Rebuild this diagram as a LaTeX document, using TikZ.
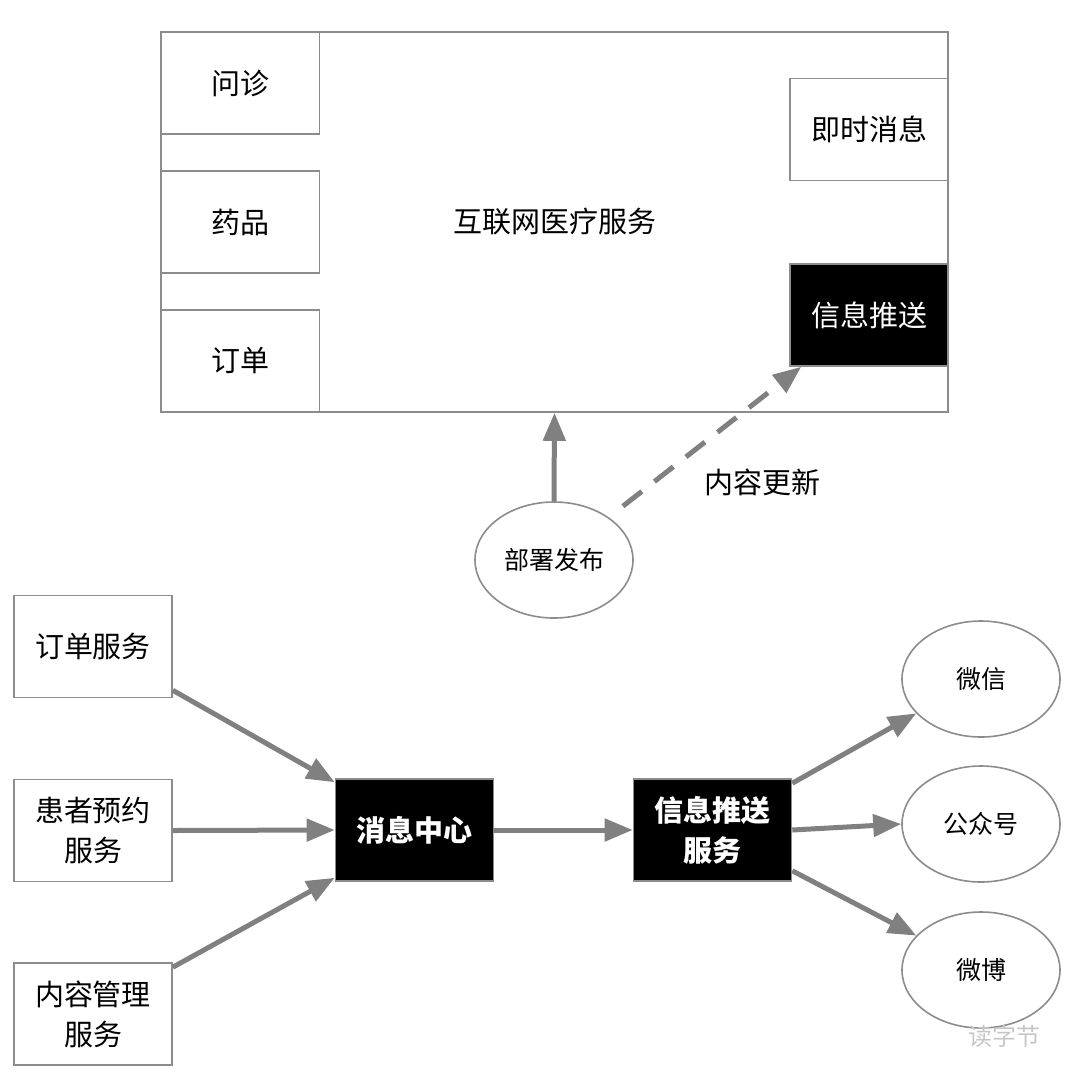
\documentclass[tikz,border=0pt]{standalone}
\usepackage{fontspec}
\setmainfont{Noto Sans CJK SC}
\usetikzlibrary{arrows.meta,shapes.geometric}
\definecolor{edgegray}{RGB}{140,140,140}
\definecolor{linkgray}{RGB}{128,128,128}

\begin{document}
\begin{tikzpicture}[x=0.5pt,y=-0.5pt,
    box/.style={draw=edgegray, line width=0.8pt, fill=white, minimum width=79pt, minimum height=51pt, inner sep=0pt, align=center, font=\fontsize{14.5}{20}\selectfont},
    darkbox/.style={box, fill=black, text=white},
    strongbox/.style={darkbox, font=\fontsize{14.5}{20}\selectfont\bfseries},
    oval/.style={ellipse, draw=edgegray, line width=0.8pt, fill=white, minimum width=79pt, minimum height=58pt, inner sep=0pt, font=\fontsize{12.5}{16}\selectfont},
    link/.style={draw=linkgray, line width=2.5pt, -{Triangle[length=14pt,width=11pt]}}]
    \useasboundingbox (0,0) rectangle (1080,1084);

    \node[box, minimum width=393.5pt, minimum height=190pt] (platform) at (554.5,222) {互联网医疗服务};
    \node[box] (consult) at (240.5,83) {问诊};
    \node[box] (drug) at (240.5,222) {药品};
    \node[box] (ordertop) at (240.5,361) {订单};
    \node[box] (im) at (869,129.5) {即时消息};
    \node[darkbox] (pushtop) at (869,315) {信息推送};

    \node[oval] (deploy) at (554,560) {部署发布};
    \node[font=\fontsize{14.5}{20}\selectfont] (update) at (762,482) {内容更新};

    \draw[link] (deploy.north) -- (platform.south);
    \draw[link, dash pattern=on 12pt off 8pt, shorten <=9pt] (deploy.38) -- ([xshift=6pt]pushtop.south west);

    \node[box] (order) at (93,646.5) {订单服务};
    \node[box] (patient) at (93,830.5) {患者预约\\服务};
    \node[box] (content) at (93,1014) {内容管理\\服务};
    \node[strongbox] (hub) at (414.5,830) {消息中心};
    \node[strongbox] (push) at (712.5,830) {信息推送\\服务};
    \node[oval] (wechat) at (981,679) {微信};
    \node[oval] (gzh) at (981,824) {公众号};
    \node[oval] (weibo) at (981,970) {微博};

    \draw[link] ([yshift=4pt]order.south east) -- ([yshift=-2pt]hub.north west);
    \draw[link] (patient.east) -- (hub.west);
    \draw[link] ([yshift=-2.5pt]content.north east) -- ([yshift=2pt]hub.south west);
    \draw[link] (hub.east) -- (push.west);
    \draw[link] ([yshift=-2.5pt]push.north east) -- (wechat.208);
    \draw[link] (push.east) -- (gzh.west);
    \draw[link] ([yshift=5.5pt]push.south east) -- (weibo.152);

    \node[text=gray!45, font=\fontsize{12}{12}\selectfont] (mark) at (1004,1036) {读字节};
\end{tikzpicture}
\end{document}
